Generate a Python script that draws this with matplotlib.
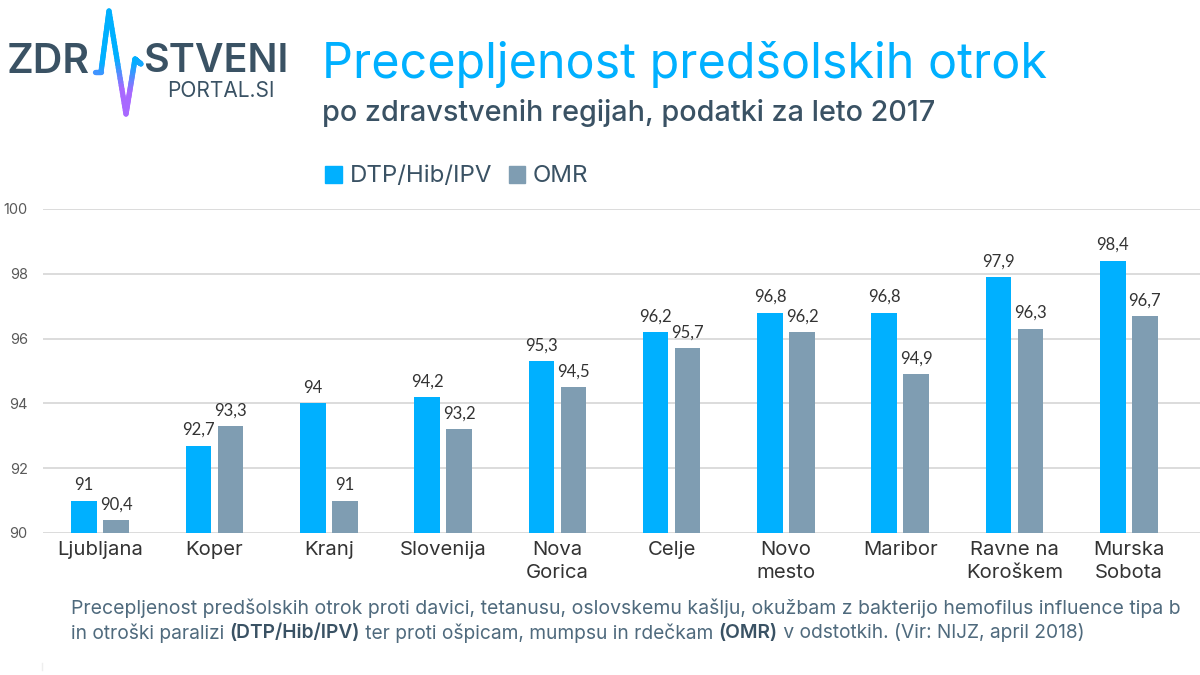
import matplotlib
matplotlib.use('Agg')
import matplotlib.pyplot as plt
import numpy as np
from matplotlib.collections import LineCollection
from matplotlib.colors import LinearSegmentedColormap

plt.rcParams['font.family'] = ['Inter', 'DejaVu Sans']

regions = ['Ljubljana', 'Koper', 'Kranj', 'Slovenija', 'Nova\nGorica', 'Celje',
           'Novo\nmesto', 'Maribor', 'Ravne na\nKoroškem', 'Murska\nSobota']
dtp = [91, 92.7, 94, 94.2, 95.3, 96.2, 96.8, 96.8, 97.9, 98.4]
omr = [90.4, 93.3, 91, 93.2, 94.5, 95.7, 96.2, 94.9, 96.3, 96.7]
yticks = [90, 92, 94, 96, 98, 100]

W, H = 1200, 675
BLUE = '#00b0ff'
GREY = '#7f9db2'
DARK = '#3a5264'

fig = plt.figure(figsize=(W/100, H/100), dpi=100, facecolor='white')

# plot area in pixels: left 43, gridlines run to the right edge, y=100 at 209, y=90 at 533
ax = fig.add_axes([43/W, 1-533/H, 1157/W, 324/H])
x = np.arange(len(regions))
bw = 25.5/114.3
off = 16/114.3
ax.bar(x-off, dtp, bw, color=BLUE, zorder=3)
ax.bar(x+off, omr, bw, color=GREY, zorder=3)
for i in x:
    ax.text(i-off, dtp[i]+0.24, f'{dtp[i]:g}'.replace('.', ','), ha='center', va='bottom',
            fontsize=12, color='#333333', family='Lato')
    ax.text(i+off, omr[i]+0.24, f'{omr[i]:g}'.replace('.', ','), ha='center', va='bottom',
            fontsize=12, color='#333333', family='Lato')
ax.set_xlim(-0.5, len(regions)-0.5+14/114.3)
ax.set_ylim(90, 100)
ax.set_yticks(yticks)
ax.set_yticklabels([str(t) for t in yticks], fontsize=10.5, color='#595959')
ax.set_xticks(x)
ax.set_xticklabels(regions, fontsize=14.6, color='#333333', linespacing=1.35)
ax.tick_params(length=0)
ax.tick_params(axis='x', pad=6)
ax.tick_params(axis='y', pad=11)
ax.grid(axis='y', color='#d9d9d9', lw=1.3, zorder=0)
ax.set_axisbelow(True)
for s in ax.spines.values():
    s.set_visible(False)

# everything else is placed in figure pixels
over = fig.add_axes([0, 0, 1, 1], facecolor='none')
over.set_xlim(0, W)
over.set_ylim(H, 0)
over.axis('off')

# title
over.text(322, 65, 'Precepljenost predšolskih otrok', fontsize=34.9, color=BLUE, va='center')
over.text(322, 113, 'po zdravstvenih regijah, podatki za leto 2017', fontsize=20.7, color=DARK,
          va='center', fontweight='medium')

# legend
over.add_patch(plt.Rectangle((325, 166), 17, 17, color=BLUE))
over.text(350, 176, 'DTP/Hib/IPV', fontsize=17.3, color=DARK, va='center')
over.add_patch(plt.Rectangle((509, 166), 16, 17, color=GREY))
over.text(533, 176, 'OMR', fontsize=17.3, color=DARK, va='center')

# logo
over.text(7, 62, 'ZDR', fontsize=29.5, color=DARK, va='center', fontweight='semibold')
over.text(143, 62, 'STVENI', fontsize=28.4, color=DARK, va='center', fontweight='semibold')
over.text(167, 91, 'PORTAL.SI', fontsize=15, color=DARK, va='center')
px = np.array([95, 101, 109, 126, 135, 141])
py = np.array([72, 72, 11, 114, 59, 64])
pts = np.column_stack([px, py]).reshape(-1, 1, 2)
segs = []
cols = []
for a, b in zip(pts[:-1], pts[1:]):
    for t0, t1 in zip(np.linspace(0, 1, 30)[:-1], np.linspace(0, 1, 30)[1:]):
        p0 = a + (b-a)*t0
        p1 = a + (b-a)*t1
        segs.append(np.vstack([p0, p1]))
        cols.append((p0[0, 1]+p1[0, 1])/2)
cmap = LinearSegmentedColormap.from_list('logo', [(0, BLUE), (0.48, BLUE), (0.77, '#a868ff'), (1, '#a868ff')])
lc = LineCollection(segs, array=np.array(cols), cmap=cmap, norm=plt.Normalize(11, 114), lw=3.8, capstyle='round')
over.add_collection(lc)

# footnote
note_col = '#4f6a7d'
over.text(71, 608, 'Precepljenost predšolskih otrok proti davici, tetanusu, oslovskemu kašlju, '
          'okužbam z bakterijo hemofilus influence tipa b', fontsize=14.0, color=note_col, va='center')
parts = [('in otroški paralizi ', 'normal', note_col), ('(DTP/Hib/IPV)', 'semibold', DARK),
         (' ter proti ošpicam, mumpsu in rdečkam ', 'normal', note_col), ('(OMR)', 'semibold', DARK),
         (' v odstotkih. (Vir: NIJZ, april 2018)', 'normal', note_col)]
r = fig.canvas.get_renderer()
cx = 71
for s, w, c in parts:
    t = over.text(cx, 633, s, fontsize=13.8, color=c, fontweight=w, va='center')
    cx += t.get_window_extent(r).width

# small stray mark at the bottom of the slide
over.plot([42, 42], [663, 670], color='#eeeeee', lw=1)

fig.savefig('out.png', dpi=100, facecolor='white')
